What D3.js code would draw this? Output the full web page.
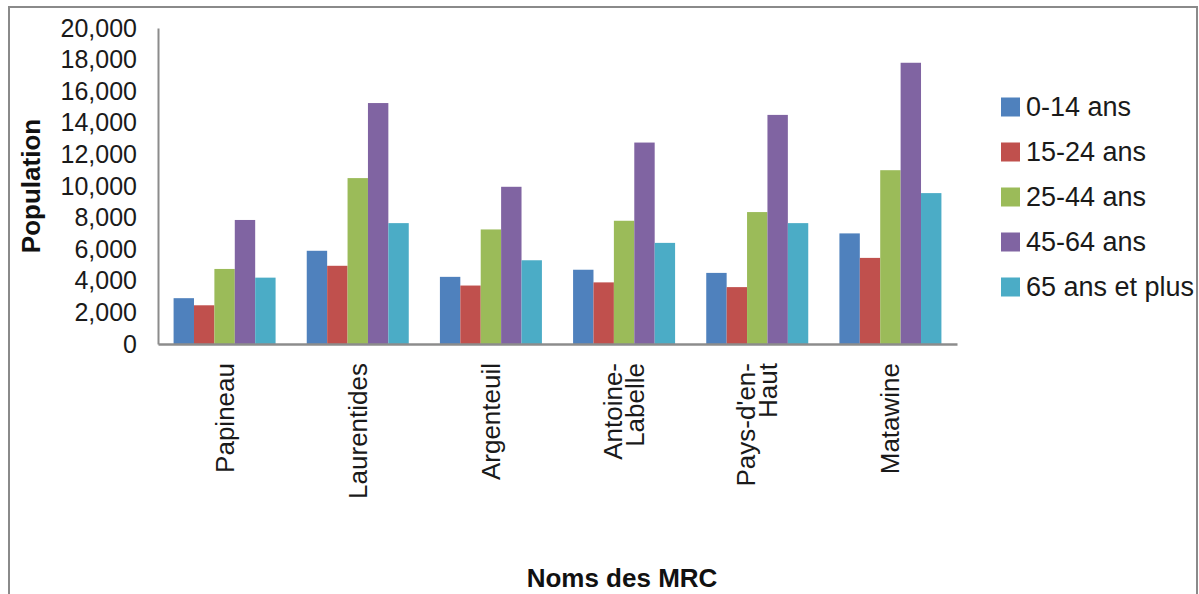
<!DOCTYPE html>
<html>
<head>
<meta charset="utf-8">
<script src="https://cdn.jsdelivr.net/npm/d3@7/dist/d3.min.js"></script>
<style>
  html, body { margin: 0; padding: 0; background: #fff; }
  svg { display: block; font-family: "Liberation Sans", Arial, Helvetica, sans-serif; }
</style>
</head>
<body>
<svg id="chart" width="1199" height="594"></svg>
<script>
// Population by age group for each MRC
const categories = ["Papineau", "Laurentides", "Argenteuil", "Antoine-\nLabelle", "Pays-d'en-\nHaut", "Matawine"];
const seriesNames = ["0-14 ans", "15-24 ans", "25-44 ans", "45-64 ans", "65 ans et plus"];
const age0to14   = [2900, 5900, 4250, 4700, 4500, 7000];
const age15to24  = [2450, 4950, 3700, 3900, 3600, 5450];
const age25to44  = [4750, 10500, 7250, 7800, 8350, 11000];
const age45to64  = [7850, 15250, 9950, 12750, 14500, 17800];
const age65plus  = [4200, 7650, 5300, 6400, 7650, 9550];
const yTicks = [0, 2000, 4000, 6000, 8000, 10000, 12000, 14000, 16000, 18000, 20000];
const colors = ["#4F81BD", "#C0504D", "#9BBB59", "#8064A2", "#4BACC6"];

const seriesValues = [age0to14, age15to24, age25to44, age45to64, age65plus];

const svg = d3.select("#chart");
const textColor = "#1a1a1a";
const axisColor = "#8c8c8c";

// outer chart frame
svg.append("rect")
  .attr("x", 9).attr("y", 7)
  .attr("width", 1188).attr("height", 600)
  .attr("fill", "#fff")
  .attr("stroke", "#8a8a8a")
  .attr("stroke-width", 2);

const plot = { left: 158, right: 957, top: 28, bottom: 344 };

const x0 = d3.scaleBand()
  .domain(categories)
  .range([plot.left, plot.right])
  .paddingInner(0.234)
  .paddingOuter(0.117);

const x1 = d3.scaleBand()
  .domain(seriesNames)
  .range([0, x0.bandwidth()])
  .padding(0);

const y = d3.scaleLinear()
  .domain([0, 20000])
  .range([plot.bottom, plot.top]);

const color = d3.scaleOrdinal().domain(seriesNames).range(colors);

// bars
const groups = svg.append("g")
  .selectAll("g")
  .data(categories)
  .join("g")
  .attr("transform", d => `translate(${x0(d)},0)`);

groups.selectAll("rect")
  .data((c, i) => seriesNames.map((s, j) => ({ s, v: seriesValues[j][i] })))
  .join("rect")
  .attr("x", d => x1(d.s))
  .attr("y", d => y(d.v))
  .attr("width", x1.bandwidth())
  .attr("height", d => y(0) - y(d.v))
  .attr("fill", d => color(d.s));

// y axis
const yAxis = svg.append("g")
  .attr("transform", `translate(${plot.left},0)`)
  .call(d3.axisLeft(y).tickValues(yTicks).tickFormat(d3.format(",")).tickSize(0).tickPadding(21));
yAxis.select(".domain").attr("stroke", axisColor).attr("stroke-width", 2);
yAxis.selectAll("text")
  .attr("fill", textColor)
  .style("font-size", "25px")
  .style("font-family", "'Liberation Sans', Arial, sans-serif");

// x axis
const xAxis = svg.append("g")
  .attr("transform", `translate(0,${plot.bottom})`)
  .call(d3.axisBottom(x0).tickSize(0).tickFormat(""));
xAxis.select(".domain").attr("stroke", axisColor).attr("stroke-width", 2.5);

// rotated category labels (top-aligned under the axis)
const lineH = 22;
const catLabels = svg.append("g")
  .selectAll("text")
  .data(categories)
  .join("text")
  .attr("transform", d => `translate(${x0(d) + x0.bandwidth() / 2},${plot.bottom + 19}) rotate(-90)`)
  .attr("text-anchor", "end")
  .attr("fill", textColor)
  .style("font-size", "26px");

catLabels.each(function(d) {
  const lines = d.split("\n");
  const t = d3.select(this);
  const start = -(lines.length - 1) / 2 * lineH + 9;
  lines.forEach((ln, k) => {
    t.append("tspan")
      .attr("x", 0)
      .attr("y", start + k * lineH)
      .text(ln);
  });
});

// axis titles
svg.append("text")
  .attr("transform", `translate(40,${(plot.top + plot.bottom) / 2}) rotate(-90)`)
  .attr("text-anchor", "middle")
  .attr("fill", "#111")
  .style("font-size", "26px")
  .style("font-weight", "bold")
  .text("Population");

svg.append("text")
  .attr("x", 622)
  .attr("y", 587)
  .attr("text-anchor", "middle")
  .attr("fill", "#111")
  .style("font-size", "26px")
  .style("font-weight", "bold")
  .text("Noms des MRC");

// legend
const legend = svg.append("g")
  .attr("transform", "translate(1001,107)")
  .selectAll("g")
  .data(seriesNames)
  .join("g")
  .attr("transform", (d, i) => `translate(0,${i * 45})`);

legend.append("rect")
  .attr("x", 0).attr("y", -9.5)
  .attr("width", 19).attr("height", 19)
  .attr("fill", d => color(d));

legend.append("text")
  .attr("x", 25)
  .attr("y", 9)
  .attr("fill", textColor)
  .style("font-size", "27px")
  .text(d => d);
</script>
</body>
</html>
